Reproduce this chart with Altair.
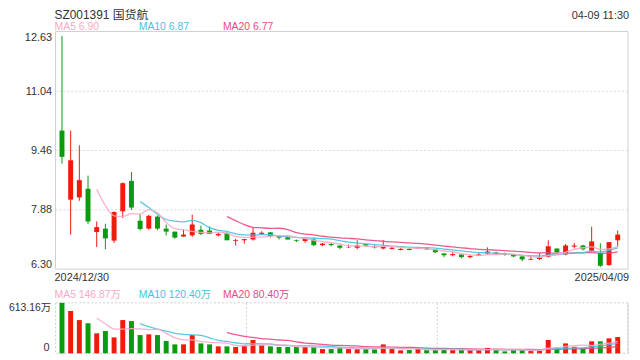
import altair as alt
import pandas as pd

# ---------------- data ----------------
title_text = "SZ001391 国货航"
time_text = "04-09 11:30"
start_date = "2024/12/30"
end_date = "2025/04/09"
price_legend = ["MA5 6.90", "MA10 6.87", "MA20 6.77"]
vol_legend = ["MA5 146.87万", "MA10 120.40万", "MA20 80.40万"]
price_ticks = [6.30, 7.88, 9.46, 11.04, 12.63]
vol_ticks = [0, 613.16]
vol_tick_labels = ["0", "613.16万"]

opens = [9.99, 8.15, 8.21, 8.44, 7.29, 7.38, 7.06, 7.84, 8.65, 7.59,
         7.38, 7.70, 7.38, 7.30, 7.17, 7.20, 7.35, 7.33, 7.20, 7.26,
         7.05, 7.07, 7.09, 7.24, 7.28, 7.18, 7.15, 7.07, 7.05, 7.09,
         6.94, 6.97, 6.93, 6.88, 6.87, 6.97, 6.91, 6.85, 6.84, 6.81,
         6.84, 6.84, 6.86, 6.83, 6.72, 6.67, 6.69, 6.62, 6.65, 6.72,
         6.74, 6.71, 6.69, 6.64, 6.55, 6.57, 6.63, 6.85, 6.69, 6.90,
         6.93, 6.79, 6.73, 6.41, 7.07]
closes = [9.29, 9.20, 8.67, 7.57, 7.42, 7.12, 7.82, 8.59, 7.94, 7.37,
          7.72, 7.38, 7.30, 7.14, 7.22, 7.49, 7.24, 7.24, 7.24, 7.07,
          7.07, 7.10, 7.27, 7.27, 7.18, 7.14, 7.09, 7.05, 7.12, 6.94,
          6.98, 6.94, 6.87, 6.89, 6.93, 6.93, 6.88, 6.90, 6.87, 6.84,
          6.81, 6.86, 6.83, 6.75, 6.67, 6.70, 6.62, 6.65, 6.69, 6.77,
          6.71, 6.68, 6.64, 6.56, 6.57, 6.62, 6.91, 6.75, 6.93, 6.93,
          6.83, 7.04, 6.39, 7.02, 7.22]
highs = [12.51, 9.99, 9.60, 8.79, 7.57, 7.51, 7.84, 8.61, 8.89, 7.77,
         7.75, 7.73, 7.49, 7.30, 7.37, 7.75, 7.46, 7.44, 7.28, 7.29,
         7.11, 7.11, 7.40, 7.31, 7.29, 7.20, 7.19, 7.09, 7.12, 7.14,
         7.00, 7.00, 6.93, 6.96, 7.07, 6.97, 6.94, 7.07, 6.89, 6.86,
         6.86, 6.87, 6.88, 6.83, 6.72, 6.77, 6.69, 6.68, 6.75, 6.88,
         6.77, 6.74, 6.69, 6.64, 6.65, 6.72, 7.07, 6.85, 6.97, 7.00,
         6.95, 7.43, 6.99, 7.02, 7.33]
lows = [9.11, 7.22, 8.12, 7.50, 6.89, 6.83, 7.00, 7.66, 7.88, 7.33,
        7.35, 7.34, 7.20, 7.11, 7.16, 7.16, 7.21, 7.23, 7.17, 7.07,
        6.93, 6.98, 7.06, 7.21, 7.14, 7.09, 7.09, 7.02, 7.00, 6.91,
        6.91, 6.91, 6.83, 6.87, 6.83, 6.89, 6.85, 6.83, 6.82, 6.80,
        6.80, 6.84, 6.81, 6.73, 6.62, 6.64, 6.59, 6.59, 6.65, 6.68,
        6.69, 6.66, 6.62, 6.51, 6.55, 6.54, 6.61, 6.74, 6.67, 6.85,
        6.80, 6.77, 6.36, 6.39, 6.90]
volumes = [613.16, 514, 404, 364, 243, 271, 194, 404, 392, 222,
           231, 222, 150, 109, 109, 222, 121, 109, 85, 85,
           77, 93, 162, 97, 85, 77, 77, 77, 77, 77,
           52, 52, 69, 52, 52, 52, 49, 109, 52, 36,
           40, 52, 40, 40, 52, 40, 44, 40, 40, 66,
           40, 24, 44, 45, 28, 36, 163, 70, 121, 80,
           61, 146, 146, 182, 198]

df = pd.DataFrame({
    "i": list(range(len(opens))),
    "open": opens, "close": closes, "high": highs, "low": lows, "vol": volumes,
})

# ---------------- style ----------------
RED = "#f3190b"
GREEN = "#089c0e"
C5 = "#f9a9c6"
C10 = "#48c3e0"
C20 = "#e94a82"
TXT = "#333333"
GRID = "#d9d9d9"
BORDER = "#cfcfcf"
FONT = "Liberation Sans, Arial, Noto Sans CJK SC, sans-serif"

W = 578      # plot width
PH = 240     # price panel height
VT = 274     # volume panel top
VB = 325     # volume panel bottom

one = pd.DataFrame({"a": [0]})

xs = alt.Scale(domain=[-0.17, 64.62], nice=False, zero=False)
X = alt.X("i:Q", scale=xs, axis=None)

yP = alt.Scale(domain=[price_ticks[0], price_ticks[-1]], range=[PH, 0], nice=False, zero=False)
yAxis = alt.Axis(values=price_ticks, format=".2f", labelFlush=True, domain=False, ticks=False,
                 grid=False, labelPadding=4, labelFontSize=11, labelColor=TXT, labelFont=FONT,
                 title=None)
yV = alt.Scale(domain=[0, vol_ticks[-1]], range=[VB, VT], nice=False, zero=True)

updown = alt.condition("datum.close >= datum.open", alt.value(RED), alt.value(GREEN))

# ---------------- price panel ----------------
grid = alt.Chart(pd.DataFrame({"v": price_ticks[1:4]})).mark_rule(
    color=GRID, strokeDash=[2, 2], strokeWidth=1
).encode(y=alt.Y("v:Q", scale=yP, axis=yAxis), x=alt.value(0), x2=alt.value(W))

border = alt.Chart(one).mark_rect(fill="white", fillOpacity=0, stroke=BORDER, strokeWidth=1).encode(
    x=alt.value(0), x2=alt.value(W), y=alt.value(0), y2=alt.value(PH))

wicks = alt.Chart(df).mark_rule(strokeWidth=1).encode(
    x=X, y=alt.Y("low:Q", scale=yP, axis=yAxis), y2="high:Q", color=updown)

bodies = alt.Chart(df).mark_bar(size=5).encode(
    x=X, y=alt.Y("open:Q", scale=yP, axis=yAxis), y2="close:Q", color=updown)


def ma_line(src, n, color, yscale, axis):
    return alt.Chart(df).transform_window(
        m=f"mean({src})", frame=[-(n - 1), 0], sort=[alt.SortField("i")]
    ).transform_filter(f"datum.i >= {n - 1}").mark_line(
        color=color, strokeWidth=1.3, interpolate="monotone", opacity=0.9
    ).encode(x=X, y=alt.Y("m:Q", scale=yscale, axis=axis))


price = alt.layer(
    grid, border, wicks, bodies,
    ma_line("close", 20, C20, yP, yAxis),
    ma_line("close", 10, C10, yP, yAxis),
    ma_line("close", 5, C5, yP, yAxis),
)

# ---------------- volume panel ----------------
vborder = alt.Chart(one).mark_rect(fill="white", fillOpacity=0, stroke=BORDER, strokeWidth=1,
                                   strokeDash=[2, 2]).encode(
    x=alt.value(0), x2=alt.value(W), y=alt.value(VT), y2=alt.value(VB))
vright = alt.Chart(one).mark_rule(color=BORDER, strokeWidth=1).encode(
    x=alt.value(W), y=alt.value(VT), y2=alt.value(VB))
vgrid1 = alt.Chart(one).mark_rule(color=BORDER, strokeWidth=1, strokeDash=[2, 2]).encode(
    x=alt.value(W / 3), y=alt.value(VT), y2=alt.value(VB))
vgrid2 = alt.Chart(one).mark_rule(color=BORDER, strokeWidth=1, strokeDash=[2, 2]).encode(
    x=alt.value(2 * W / 3), y=alt.value(VT), y2=alt.value(VB))

vbars = alt.Chart(df).mark_bar(size=5).encode(
    x=X, y=alt.Y("vol:Q", scale=yV, axis=None), color=updown)

vt_df = pd.DataFrame({"v": vol_ticks, "label": vol_tick_labels})
vlab_top = alt.Chart(vt_df).transform_filter("datum.v > 0").mark_text(
    align="right", baseline="top", fontSize=10.5, font=FONT, color=TXT
).encode(x=alt.value(-4.5), y=alt.Y("v:Q", scale=yV, axis=None), text="label:N")
vlab_bot = alt.Chart(vt_df).transform_filter("datum.v == 0").mark_text(
    align="right", baseline="bottom", fontSize=11, font=FONT, color=TXT
).encode(x=alt.value(-6), y=alt.Y("v:Q", scale=yV, axis=None), text="label:N")

volume = alt.layer(
    vborder, vgrid1, vgrid2, vright, vbars,
    ma_line("vol", 20, C20, yV, None),
    ma_line("vol", 10, C10, yV, None),
    ma_line("vol", 5, C5, yV, None),
    vlab_top, vlab_bot,
)


# ---------------- annotations ----------------
def label(text, x, y, color=TXT, size=11, align="left"):
    return alt.Chart(one).mark_text(
        text=text, align=align, baseline="alphabetic", fontSize=size, font=FONT, color=color
    ).encode(x=alt.value(x), y=alt.value(y))


annots = [
    label(title_text, -1, -12.5, size=12),
    label(time_text, W + 1, -12.5, size=11, align="right"),
    label(price_legend[0], -1, -1, color=C5, size=10.5),
    label(price_legend[1], 84, -1, color=C10, size=10.5),
    label(price_legend[2], 169, -1, color=C20, size=10.5),
    label(start_date, -1, 251.5, size=11),
    label(end_date, W + 1, 251.5, size=11, align="right"),
    label(vol_legend[0], -1, 269, color=C5, size=10.5),
    label(vol_legend[1], 84, 269, color=C10, size=10.5),
    label(vol_legend[2], 169, 269, color=C20, size=10.5),
]

chart = alt.layer(price, volume, *annots).resolve_scale(y="independent").properties(
    width=W, height=VB,
    padding={"left": 48, "top": 22, "right": 4, "bottom": 2},
    autosize=alt.AutoSizeParams(type="none"),
    background="white",
).configure_view(stroke=None)

chart.save("out.html", embed_options={"renderer": "svg", "actions": False})
